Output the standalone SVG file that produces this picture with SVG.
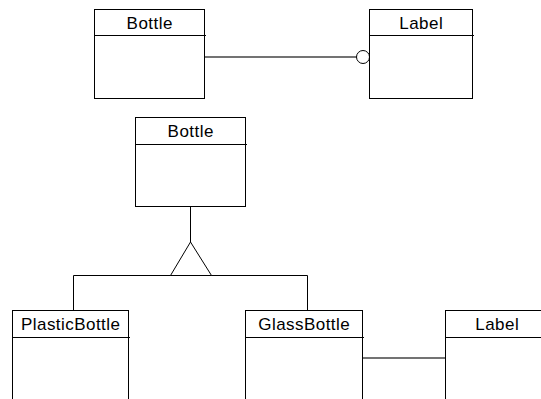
<svg xmlns="http://www.w3.org/2000/svg" width="541" height="399" viewBox="0 0 541 399">
  <style>
    .box { fill: #ffffff; stroke: #000000; stroke-width: 1; }
    .div { stroke: #000000; stroke-width: 1; fill: none; }
    .name { font-family: "Liberation Sans", Arial, Helvetica, sans-serif; font-size: 17px; letter-spacing: 0.45px; fill: #000000; text-anchor: middle; }
    .edge { stroke: #000000; stroke-width: 1; fill: none; }
    .assoc { stroke: #444444; stroke-width: 1.4; fill: none; }
  </style>
  <rect width="541" height="399" fill="#ffffff"/>

  <!-- connectors -->
  <g id="connectors">
    <!-- Bottle to Label, lollipop end -->
    <line class="assoc" x1="204.5" y1="57" x2="356.5" y2="57"/>
    <circle cx="363" cy="57" r="6.5" fill="#ffffff" stroke="#000000" stroke-width="1"/>
    <!-- generalisation tree -->
    <line class="edge" x1="190.5" y1="206.5" x2="190.5" y2="242"/>
    <line class="edge" x1="73.5" y1="275.5" x2="307.5" y2="275.5"/>
    <line class="edge" x1="73.5" y1="275.5" x2="73.5" y2="311"/>
    <line class="edge" x1="307.5" y1="275.5" x2="307.5" y2="311"/>
    <polygon points="190.5,242 170.5,275.5 211.5,275.5" fill="#ffffff" stroke="#000000" stroke-width="1"/>
    <!-- GlassBottle to Label -->
    <line class="assoc" x1="362.5" y1="358" x2="445.5" y2="358"/>
  </g>

  <g id="bottle-top">
    <rect class="box" x="94.5" y="9.5" width="110" height="89"/>
    <line class="div" x1="94.5" y1="35.5" x2="206" y2="35.5"/>
    <text class="name" x="149.7" y="28.5">Bottle</text>
  </g>

  <g id="label-top">
    <rect class="box" x="369.5" y="9.5" width="103" height="89"/>
    <line class="div" x1="369.5" y1="35.5" x2="474" y2="35.5"/>
    <text class="name" x="421.2" y="28.5">Label</text>
  </g>

  <g id="bottle">
    <rect class="box" x="135.5" y="117.5" width="110" height="89"/>
    <line class="div" x1="135.5" y1="144.5" x2="247" y2="144.5"/>
    <text class="name" x="190.7" y="137">Bottle</text>
  </g>

  <g id="plastic-bottle">
    <rect class="box" x="12.5" y="310.5" width="116" height="100"/>
    <line class="div" x1="12.5" y1="337.5" x2="130" y2="337.5"/>
    <text class="name" x="70.7" y="329.5">PlasticBottle</text>
  </g>

  <g id="glass-bottle">
    <rect class="box" x="245.5" y="310.5" width="117" height="100"/>
    <line class="div" x1="245.5" y1="337.5" x2="364" y2="337.5"/>
    <text class="name" x="304.2" y="329.5">GlassBottle</text>
  </g>

  <g id="label">
    <rect class="box" x="445.5" y="310.5" width="103" height="100"/>
    <line class="div" x1="445.5" y1="337.5" x2="550" y2="337.5"/>
    <text class="name" x="497.2" y="329.5">Label</text>
  </g>
</svg>
